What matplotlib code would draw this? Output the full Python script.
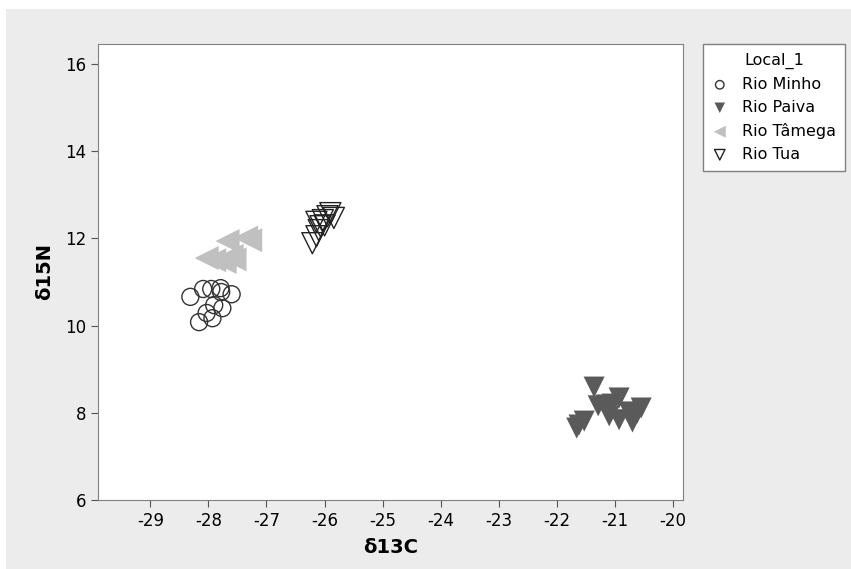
import matplotlib
matplotlib.use("Agg")
import matplotlib.pyplot as plt
from matplotlib.patches import Rectangle

# data (d13C, d15N)
minho_x = [-28.31, -28.09, -27.95, -27.79, -27.78, -27.60, -27.90, -27.76, -28.03, -27.93, -28.16]
minho_y = [10.66, 10.84, 10.84, 10.86, 10.77, 10.72, 10.47, 10.40, 10.29, 10.17, 10.08]

paiva_x = [-21.36, -20.93, -21.29, -21.15, -20.76, -20.62, -21.10, -20.93, -21.53, -21.62, -21.66, -20.70, -21.05, -20.55]
paiva_y = [8.59, 8.34, 8.16, 8.18, 8.02, 7.99, 7.93, 7.84, 7.81, 7.72, 7.65, 7.79, 8.20, 8.11]

tamega_x = [-28.03, -27.90, -27.72, -27.60, -27.67, -27.28, -27.35, -27.55]
tamega_y = [11.55, 11.50, 11.46, 11.60, 11.94, 11.96, 12.02, 11.52]

tua_x = [-26.21, -26.14, -26.10, -26.07, -26.14, -26.03, -25.95, -25.84, -25.90, -26.00]
tua_y = [11.89, 12.05, 12.19, 12.28, 12.38, 12.42, 12.51, 12.47, 12.58, 12.30]

xticks = list(range(-29, -19))
yticks = [6, 8, 10, 12, 14, 16]

plt.rcParams['font.family'] = ['DejaVu Sans']
plt.rcParams['axes.unicode_minus'] = False

fig = plt.figure(figsize=(8.51, 5.69), dpi=100, facecolor='white')
# gray panel behind the plot
fig.patches.append(Rectangle((6 / 851, 0), 1, 1 - 9 / 569, transform=fig.transFigure,
                             facecolor='#ececec', edgecolor='none', zorder=-10))

ax = fig.add_axes([98 / 851, 1 - 500 / 569, 585 / 851, 456 / 569])
ax.set_facecolor('white')

ax.scatter(minho_x, minho_y, s=150, marker='o', facecolors='none', edgecolors='#333333',
           linewidths=1.0, label='Rio Minho')
ax.scatter(paiva_x, paiva_y, s=230, marker='v', color='#5a5a5a', edgecolors='none',
           label='Rio Paiva')
ax.scatter(tamega_x, tamega_y, s=300, marker='<', color='#c0c0c0', edgecolors='none',
           label='Rio Tâmega')
ax.scatter(tua_x, tua_y, s=230, marker='v', facecolors='none', edgecolors='#222222',
           linewidths=1.0, label='Rio Tua')

ax.set_xlim(-29.9, -19.83)
ax.set_ylim(6, 16.46)
ax.set_xticks(xticks)
ax.set_yticks(yticks)
ax.tick_params(labelsize=12, color='#555555', length=5, direction='out')
for sp in ax.spines.values():
    sp.set_color('#808080')

ax.set_xlabel('δ13C', fontsize=14, fontweight='bold', labelpad=6)
ax.set_ylabel('δ15N', fontsize=14, fontweight='bold', labelpad=8)

leg = ax.legend(title='Local_1', loc='upper left', bbox_to_anchor=(703 / 851, 1 - 44 / 569),
                bbox_transform=fig.transFigure, borderaxespad=0, fontsize=11.5,
                title_fontsize=11.5, frameon=True, fancybox=False, edgecolor='#808080',
                framealpha=1, markerscale=0.5, handletextpad=0.9, borderpad=0.55,
                labelspacing=0.5, handlelength=1.0)
leg.get_frame().set_linewidth(1.0)

fig.savefig('out.png', dpi=100, facecolor='white')
